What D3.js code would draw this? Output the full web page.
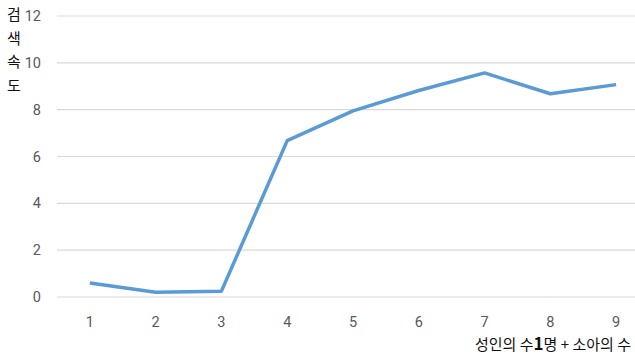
<!DOCTYPE html>
<html>
<head>
<meta charset="utf-8">
<script src="https://cdn.jsdelivr.net/npm/d3@7"></script>
<style>
  body { margin: 0; background: #fff; }
  .tick-label { font-family: "Liberation Sans Narrow", "Roboto", sans-serif; font-size: 14.5px; fill: #595959; }
  .title { font-family: "Noto Sans CJK KR", sans-serif; font-size: 15px; fill: #111; }
</style>
</head>
<body>
<svg id="chart" width="635" height="357"></svg>
<script>
const categories = [1, 2, 3, 4, 5, 6, 7, 8, 9];
const speeds = [0.6, 0.2, 0.25, 6.68, 7.95, 8.82, 9.57, 8.68, 9.07];
const yTicks = [0, 2, 4, 6, 8, 10, 12];
const yTitle = ['검', '색', '속', '도'];
const xTitleParts = ['성인의 수', '1', '명 + 소아의 수'];

const svg = d3.select('#chart');
const plotLeft = 57;
const plotRight = 649;
const plotTop = 16;
const plotBottom = 297;

const x = d3.scaleBand().domain(categories).range([plotLeft, plotRight]);
const y = d3.scaleLinear().domain([0, 12]).range([plotBottom, plotTop]);

// gridlines
svg.append('g')
  .selectAll('line')
  .data(yTicks)
  .enter()
  .append('line')
  .attr('x1', plotLeft)
  .attr('x2', plotRight)
  .attr('y1', (d) => y(d))
  .attr('y2', (d) => y(d))
  .attr('stroke', '#d9d9d9')
  .attr('stroke-width', 1.2);

// y tick labels
svg.append('g')
  .selectAll('text')
  .data(yTicks)
  .enter()
  .append('text')
  .attr('class', 'tick-label')
  .attr('x', 41)
  .attr('y', (d) => y(d))
  .attr('dy', '0.35em')
  .attr('text-anchor', 'end')
  .text((d) => d);

// x tick labels
svg.append('g')
  .selectAll('text')
  .data(categories)
  .enter()
  .append('text')
  .attr('class', 'tick-label')
  .attr('x', (d) => x(d) + x.bandwidth() / 2)
  .attr('y', 322)
  .attr('dy', '0.35em')
  .attr('text-anchor', 'middle')
  .text((d) => d);

// line
const line = d3.line()
  .x((d, i) => x(categories[i]) + x.bandwidth() / 2)
  .y((d) => y(d));

svg.append('path')
  .datum(speeds)
  .attr('d', line)
  .attr('fill', 'none')
  .attr('stroke', '#5b9bd5')
  .attr('stroke-width', 3.5)
  .attr('stroke-linejoin', 'round');

// axis titles
svg.append('g')
  .selectAll('text')
  .data(yTitle)
  .enter()
  .append('text')
  .attr('class', 'title')
  .attr('x', 14)
  .attr('y', (d, i) => 15 + i * 23.5)
  .attr('dy', '0.35em')
  .attr('text-anchor', 'middle')
  .text((d) => d);

const xTitle = svg.append('text')
  .attr('class', 'title')
  .attr('x', 631)
  .attr('y', 345)
  .attr('dy', '0.35em')
  .attr('text-anchor', 'end');

xTitle.selectAll('tspan')
  .data(xTitleParts)
  .enter()
  .append('tspan')
  .attr('font-weight', (d, i) => (i === 1 ? 'bold' : 'normal'))
  .attr('font-size', (d, i) => (i === 1 ? '17px' : null))
  .text((d) => d);
</script>
</body>
</html>
